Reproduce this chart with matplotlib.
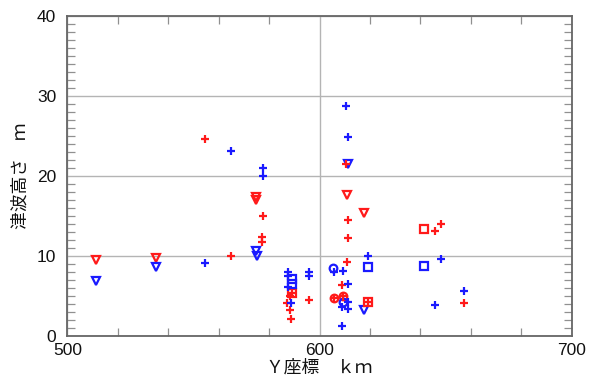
import matplotlib
matplotlib.use("Agg")
import matplotlib.pyplot as plt
from matplotlib.ticker import MultipleLocator

# ---- data ----
red_plus_x = [554.6, 564.9, 577.7, 577.3, 577.3, 588.3, 587.3, 588.3, 588.7, 596.0,
              610.6, 611.4, 611.2, 611.0, 608.8, 645.8, 648.3, 657.3, 619.1, 605.6, 609.4, 589.2]
red_plus_y = [24.6, 10.0, 15.0, 12.3, 11.7, 4.9, 4.05, 3.2, 2.05, 4.45,
              21.4, 14.5, 12.2, 9.2, 6.3, 13.05, 14.0, 4.05, 4.2, 4.7, 5.0, 5.3]

blue_plus_x = [554.6, 564.9, 577.5, 577.5, 587.6, 587.6, 587.6, 588.8, 596.0, 596.0,
               610.4, 611.4, 605.8, 609.3, 611.4, 611.4, 609.0, 611.4, 609.0, 619.1,
               648.3, 657.3, 645.8]
blue_plus_y = [9.1, 23.1, 20.9, 19.9, 7.9, 7.4, 6.1, 4.05, 7.9, 7.4,
               28.7, 24.9, 8.0, 8.1, 6.5, 4.25, 3.6, 3.3, 1.2, 9.96,
               9.6, 5.6, 3.85]

red_tri_x = [511.4, 535.0, 574.8, 575.0, 611.0, 617.5]
red_tri_y = [9.5, 9.75, 17.3, 17.0, 17.6, 15.3]

blue_tri_x = [511.4, 535.0, 575.0, 575.3, 611.2, 617.5]
blue_tri_y = [6.8, 8.6, 10.6, 9.9, 21.4, 3.2]

red_sq_x = [641.3, 589.2, 619.1]
red_sq_y = [13.3, 5.3, 4.2]

blue_sq_x = [619.1, 641.3, 588.9, 588.9]
blue_sq_y = [8.6, 8.75, 7.05, 6.5]

red_circ_x = [605.6, 609.4]
red_circ_y = [4.7, 5.0]

blue_circ_x = [605.5, 609.2]
blue_circ_y = [8.5, 4.25]

x_ticks = [500, 600, 700]
y_ticks = [0, 10, 20, 30, 40]
x_label = "Ｙ座標　ｋｍ"
y_label = "津波高さ　ｍ"

# ---- style ----
RED = "#ff1a1a"
BLUE = "#1a1aff"
tick_font = ["Liberation Sans Narrow", "Liberation Sans", "DejaVu Sans"]
cjk_font = ["Noto Sans CJK JP", "DejaVu Sans"]

fig = plt.figure(figsize=(5.99, 3.84), dpi=100)
ax = fig.add_axes([0.1124, 0.1258, 0.8420, 0.8333])

ax.set_xlim(500, 700)
ax.set_ylim(0, 40)

ax.grid(True, which="major", color="#b4b4b4", linewidth=1.0)
ax.set_axisbelow(True)

lw = 1.6
ax.plot(red_tri_x, red_tri_y, linestyle="none", marker="v", markersize=6,
        markerfacecolor="none", markeredgecolor=RED, markeredgewidth=lw)
ax.plot(blue_tri_x, blue_tri_y, linestyle="none", marker="v", markersize=6,
        markerfacecolor="none", markeredgecolor=BLUE, markeredgewidth=lw)
ax.plot(red_sq_x, red_sq_y, linestyle="none", marker="s", markersize=5.2,
        markerfacecolor="none", markeredgecolor=RED, markeredgewidth=lw)
ax.plot(blue_sq_x, blue_sq_y, linestyle="none", marker="s", markersize=5.2,
        markerfacecolor="none", markeredgecolor=BLUE, markeredgewidth=lw)
ax.plot(red_circ_x, red_circ_y, linestyle="none", marker="o", markersize=5.5,
        markerfacecolor="none", markeredgecolor=RED, markeredgewidth=lw)
ax.plot(blue_circ_x, blue_circ_y, linestyle="none", marker="o", markersize=5.5,
        markerfacecolor="none", markeredgecolor=BLUE, markeredgewidth=lw)
ax.plot(red_plus_x, red_plus_y, linestyle="none", marker="+", markersize=6.2,
        color=RED, markeredgewidth=lw)
ax.plot(blue_plus_x, blue_plus_y, linestyle="none", marker="+", markersize=6.2,
        color=BLUE, markeredgewidth=lw)

ax.set_xticks(x_ticks)
ax.set_yticks(y_ticks)
ax.xaxis.set_minor_locator(MultipleLocator(20))
ax.yaxis.set_minor_locator(MultipleLocator(1))
ax.tick_params(which="major", length=0, pad=5)
ax.tick_params(axis="y", which="major", pad=8)
ax.tick_params(which="minor", direction="in", length=6, width=0.9,
               color="#909090", top=True, right=True, bottom=True, left=True)
for lab in ax.get_xticklabels() + ax.get_yticklabels():
    lab.set_family(tick_font)
    lab.set_fontsize(12.5)
    lab.set_color("#111111")

for sp in ax.spines.values():
    sp.set_color("#666666")
    sp.set_linewidth(1.3)

ax.set_xlabel(x_label, family=cjk_font, fontsize=12.8, color="#111111", labelpad=1)
ax.set_ylabel(y_label, family=cjk_font, fontsize=12.8, color="#111111", labelpad=5)

fig.savefig("out.png", dpi=100)
